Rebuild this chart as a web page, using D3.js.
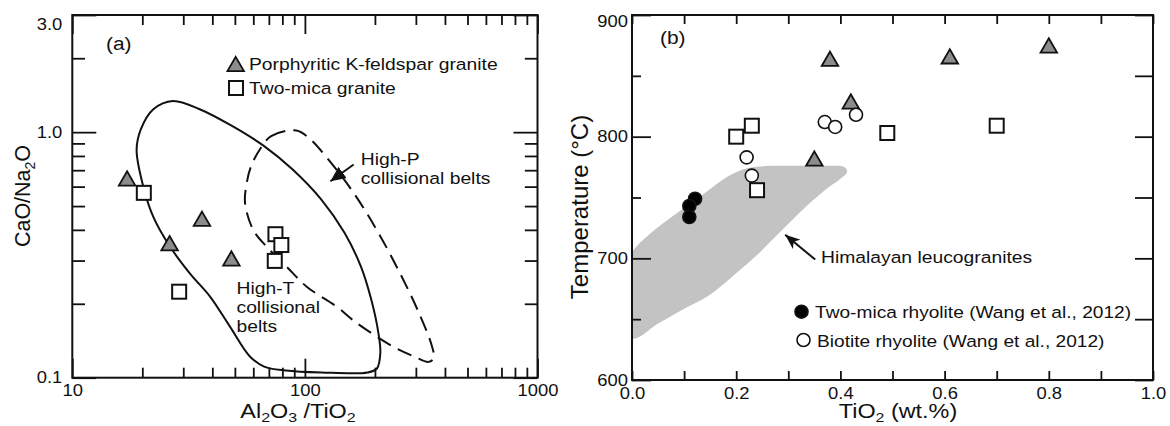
<!DOCTYPE html>
<html>
<head>
<meta charset="utf-8">
<script src="https://cdn.jsdelivr.net/npm/d3@7"></script>
<style>
  body { margin: 0; background: #fff; }
  text { font-family: "Liberation Sans", Arial, sans-serif; fill: #111; }
</style>
</head>
<body>
<svg id="chart" width="1170" height="426"></svg>
<script>
// ---- panel (a) : CaO/Na2O vs Al2O3/TiO2 ----
var kfsA_x  = [17.2, 36.1, 26.2, 48.3];
var kfsA_y  = [0.648, 0.444, 0.353, 0.306];
var micaA_x = [20.3, 74.7, 79.2, 74.2, 28.8];
var micaA_y = [0.566, 0.384, 0.347, 0.299, 0.224];
// High-T collisional belts field (solid)
var highT = [[27.1,1.34],[35.3,1.24],[48.6,1.06],[66.8,0.877],[88.6,0.704],[117.7,0.531],
  [148,0.389],[174,0.284],[193,0.2075],[207,0.152],[211,0.126],[204,0.109],[186,0.105],
  [118,0.105],[82.6,0.107],[66.8,0.111],[58,0.122],[47.7,0.161],[39.1,0.214],[32,0.266],
  [26.3,0.342],[22.3,0.452],[20.2,0.60],[18.9,0.846],[19.7,1.026],[22.3,1.24]];
// High-P collisional belts field (dashed)
var highP = [[64,0.85],[71.6,0.963],[91.9,1.016],[105.7,0.934],[126,0.774],[162,0.566],
  [207,0.389],[256,0.267],[305,0.189],[352,0.134],[358,0.120],[340,0.116],[295,0.122],
  [239,0.134],[167.5,0.1667],[137,0.1946],[101.8,0.2347],[83.5,0.283],[68.5,0.3415],
  [60,0.399],[55.3,0.514],[56.2,0.619],[58.5,0.72]];
var arrowA = [[162,0.738],[128.8,0.631]];
var xTicksA_major = [10, 100, 1000];
var xTicksA_minor = [20,30,40,50,60,70,80,90,200,300,400,500,600,700,800,900];
var yTicksA_major = [0.1, 1.0, 3.0];
var yTicksA_minor = [0.2,0.3,0.4,0.5,0.6,0.7,0.8,0.9,2.0];

// ---- panel (b) : Temperature vs TiO2 ----
var kfsB_ti  = [0.38, 0.61, 0.80, 0.42, 0.35];
var kfsB_t   = [864, 866, 875, 829, 782];
var micaB_ti = [0.20, 0.23, 0.49, 0.70, 0.24];
var micaB_t  = [800, 809, 803, 809, 756];
var bioB_ti  = [0.37, 0.39, 0.43, 0.22, 0.23];
var bioB_t   = [812, 808, 818, 783, 768];
var twoB_ti  = [0.121, 0.110, 0.110];
var twoB_t   = [749, 743, 734];
// Himalayan leucogranites field
var himal = [[0,705],[0.034,720],[0.086,737],[0.138,753],[0.183,767],[0.221,774],[0.266,776],
  [0.325,776],[0.385,776],[0.4075,775],[0.413,771],[0.40,765.5],[0.37,756],[0.325,739],
  [0.2805,720],[0.2356,701],[0.191,684.5],[0.146,669],[0.0934,657],[0.0485,646],[0,634],[-0.05,660]];
var arrowB = [[0.3516,699],[0.294,719.4]];
var xTicksB = [0,0.1,0.2,0.3,0.4,0.5,0.6,0.7,0.8,0.9,1.0];
var yTicksB_major = [600, 700, 800, 900];
var yTicksB_minor = [650, 750, 850];

var svg = d3.select("#chart");
var TRI = "#8c8c8c", SHADE = "#c3c3c3";

// arrow heads
var defs = svg.append("defs");
defs.append("marker").attr("id", "headA").attr("markerUnits", "userSpaceOnUse")
  .attr("markerWidth", 16).attr("markerHeight", 14).attr("refX", 15).attr("refY", 7)
  .attr("orient", "auto")
  .append("path").attr("d", "M0,0 L15,7 L0,14 Z").attr("fill", "#111");
defs.append("marker").attr("id", "headB").attr("markerUnits", "userSpaceOnUse")
  .attr("markerWidth", 16).attr("markerHeight", 12).attr("refX", 15).attr("refY", 6)
  .attr("orient", "auto")
  .append("path").attr("d", "M0,0 L15,6 L0,12 L4,6 Z").attr("fill", "#111");

// horizontally widened text like the original figure
function label(g, x, y, parts, size, sx, anchor) {
  var t = g.append("text")
    .attr("transform", "translate(" + x + "," + y + ") scale(" + sx + ",1)")
    .attr("font-size", size)
    .attr("text-anchor", anchor || "start");
  parts.forEach(function(p) {
    var s = t.append("tspan").text(p[0]);
    if (p[1] == "sub") s.attr("font-size", size * 0.68).attr("dy", size * 0.2);
    if (p[1] == "up") s.attr("dy", -size * 0.2);
  });
  return t;
}

function widenTicks(sel, sx, fs) {
  sel.selectAll(".tick text").each(function() {
    var x = +this.getAttribute("x") || 0, y = +this.getAttribute("y") || 0;
    d3.select(this).attr("x", 0).attr("y", 0)
      .attr("transform", "translate(" + x + "," + y + ") scale(" + sx + ",1)")
      .attr("font-size", fs).attr("fill", "#111")
      .attr("font-family", "'Liberation Sans', Arial, sans-serif");
  });
  sel.select(".domain").remove();
  sel.selectAll(".tick line").attr("stroke", "#111").attr("stroke-width", 1.8);
}

function addAxis(g, axis, tx, ty) {
  var a = g.append("g").attr("transform", "translate(" + tx + "," + ty + ")").call(axis);
  widenTicks(a, 1.15, 16);
  return a;
}

function triangle(g, cx, cy) {
  var sym = d3.symbol(d3.symbolTriangle, 118);
  var hy = Math.sqrt(118 / (3 * Math.sqrt(3)));
  g.append("path").attr("d", sym())
    .attr("transform", "translate(" + cx + "," + (cy + hy / 2) + ")")
    .attr("fill", TRI).attr("stroke", "#111").attr("stroke-width", 1.8);
}
function square(g, cx, cy) {
  g.append("rect").attr("x", cx - 7).attr("y", cy - 7).attr("width", 14).attr("height", 14)
    .attr("fill", "#fff").attr("stroke", "#111").attr("stroke-width", 2);
}
function circle(g, cx, cy, filled) {
  g.append("circle").attr("cx", cx).attr("cy", cy).attr("r", 6.5)
    .attr("fill", filled ? "#000" : "#fff").attr("stroke", "#111").attr("stroke-width", 1.6);
}

// ================= panel (a) =================
var xa = d3.scaleLog().domain([10, 1000]).range([72.3, 537.5]);
var ya = d3.scaleLog().domain([0.1, 3]).range([377.7, 15]);
var ga = svg.append("g");

var fieldLineA = d3.line().x(function(d) { return xa(d[0]); }).y(function(d) { return ya(d[1]); })
  .curve(d3.curveCatmullRomClosed.alpha(0.5));
ga.append("path").attr("d", fieldLineA(highT)).attr("fill", "none")
  .attr("stroke", "#111").attr("stroke-width", 2);
ga.append("path").attr("d", fieldLineA(highP)).attr("fill", "none")
  .attr("stroke", "#111").attr("stroke-width", 2).attr("stroke-dasharray", "15,8");

ga.append("line")
  .attr("x1", xa(arrowA[0][0])).attr("y1", ya(arrowA[0][1]))
  .attr("x2", xa(arrowA[1][0])).attr("y2", ya(arrowA[1][1]))
  .attr("stroke", "#111").attr("stroke-width", 2).attr("marker-end", "url(#headA)");

kfsA_x.forEach(function(v, i) { triangle(ga, xa(v), ya(kfsA_y[i])); });
micaA_x.forEach(function(v, i) { square(ga, xa(v), ya(micaA_y[i])); });

// axes (inward ticks)
addAxis(ga, d3.axisBottom(xa).tickValues(xTicksA_major).tickFormat(d3.format("d"))
  .tickSizeInner(-19).tickSizeOuter(0).tickPadding(7), 0, 377.7);
addAxis(ga, d3.axisBottom(xa).tickValues(xTicksA_minor).tickFormat("")
  .tickSizeInner(-10).tickSizeOuter(0), 0, 377.7);
addAxis(ga, d3.axisTop(xa).tickValues(xTicksA_major).tickFormat("")
  .tickSizeInner(-19).tickSizeOuter(0), 0, 15);
addAxis(ga, d3.axisTop(xa).tickValues(xTicksA_minor).tickFormat("")
  .tickSizeInner(-10).tickSizeOuter(0), 0, 15);
var yla = addAxis(ga, d3.axisLeft(ya).tickValues(yTicksA_major).tickFormat(d3.format(".1f"))
  .tickSizeInner(-24).tickSizeOuter(0).tickPadding(10), 72.3, 0);
yla.selectAll(".tick").filter(function(d) { return d == 3; }).select("text")
  .attr("transform", function() { return d3.select(this).attr("transform").replace("translate(-10,0)", "translate(-10,9)"); });
addAxis(ga, d3.axisLeft(ya).tickValues(yTicksA_minor).tickFormat("")
  .tickSizeInner(-12.7).tickSizeOuter(0), 72.3, 0);
addAxis(ga, d3.axisRight(ya).tickValues(yTicksA_major).tickFormat("")
  .tickSizeInner(-24).tickSizeOuter(0), 537.5, 0);
addAxis(ga, d3.axisRight(ya).tickValues(yTicksA_minor).tickFormat("")
  .tickSizeInner(-12.7).tickSizeOuter(0), 537.5, 0);

ga.append("rect").attr("x", 72.3).attr("y", 15).attr("width", 537.5 - 72.3).attr("height", 377.7 - 15)
  .attr("fill", "none").attr("stroke", "#111").attr("stroke-width", 2);

label(ga, 106, 50, [["(a)"]], 19, 1.1);
triangle(ga, 235.7, 64);
square(ga, 236, 88);
label(ga, 249, 70, [["Porphyritic K-feldspar granite"]], 16.5, 1.17);
label(ga, 249, 94, [["Two-mica granite"]], 16.5, 1.17);
label(ga, 360.7, 165, [["High-P"]], 16.5, 1.17);
label(ga, 360.7, 184, [["collisional belts"]], 16.5, 1.17);
label(ga, 236.5, 293.5, [["High-T"]], 16.5, 1.17);
label(ga, 236.5, 312.7, [["collisional"]], 16.5, 1.17);
label(ga, 236.5, 331.7, [["belts"]], 16.5, 1.17);

label(ga, 298, 418, [["Al"], ["2", "sub"], ["O", "up"], ["3", "sub"], [" /TiO", "up"], ["2", "sub"]], 19.5, 1.2, "middle");
ga.append("text").attr("transform", "translate(30,196) rotate(-90)").attr("text-anchor", "middle")
  .attr("font-size", 21.5)
  .call(function(t) {
    t.append("tspan").text("CaO/Na");
    t.append("tspan").text("2").attr("font-size", 14).attr("dy", 5);
    t.append("tspan").text("O").attr("dy", -5);
  });

// ================= panel (b) =================
var xb = d3.scaleLinear().domain([0, 1]).range([632, 1153]);
var yb = d3.scaleLinear().domain([600, 900]).range([380, 15]);
var gb = svg.append("g");

defs.append("clipPath").attr("id", "clipB").append("rect")
  .attr("x", 632).attr("y", 15).attr("width", 1153 - 632).attr("height", 380 - 15);

var fieldLineB = d3.line().x(function(d) { return xb(d[0]); }).y(function(d) { return yb(d[1]); })
  .curve(d3.curveCatmullRomClosed.alpha(0.5));
gb.append("path").attr("d", fieldLineB(himal)).attr("fill", SHADE).attr("stroke", "none")
  .attr("clip-path", "url(#clipB)");

gb.append("line")
  .attr("x1", xb(arrowB[0][0])).attr("y1", yb(arrowB[0][1]))
  .attr("x2", xb(arrowB[1][0])).attr("y2", yb(arrowB[1][1]))
  .attr("stroke", "#111").attr("stroke-width", 2).attr("marker-end", "url(#headB)");

kfsB_ti.forEach(function(v, i) { triangle(gb, xb(v), yb(kfsB_t[i])); });
micaB_ti.forEach(function(v, i) { square(gb, xb(v), yb(micaB_t[i])); });
bioB_ti.forEach(function(v, i) { circle(gb, xb(v), yb(bioB_t[i]), false); });
twoB_ti.forEach(function(v, i) { circle(gb, xb(v), yb(twoB_t[i]), true); });

var fmtB = function(d) { return Math.round(d * 10) % 2 == 0 ? d3.format(".1f")(d) : ""; };
addAxis(gb, d3.axisBottom(xb).tickValues(xTicksB).tickFormat(fmtB)
  .tickSizeInner(-9).tickSizeOuter(0).tickPadding(8), 0, 380);
addAxis(gb, d3.axisTop(xb).tickValues(xTicksB).tickFormat("")
  .tickSizeInner(-9).tickSizeOuter(0), 0, 15);
var ylb = addAxis(gb, d3.axisLeft(yb).tickValues(yTicksB_major).tickFormat(d3.format("d"))
  .tickSizeInner(-19).tickSizeOuter(0).tickPadding(4), 632, 0);
ylb.selectAll(".tick").filter(function(d) { return d == 900; }).select("text")
  .attr("transform", function() { return d3.select(this).attr("transform").replace("translate(-4,0)", "translate(-4,6)"); });
addAxis(gb, d3.axisLeft(yb).tickValues(yTicksB_minor).tickFormat("")
  .tickSizeInner(-9).tickSizeOuter(0), 632, 0);
addAxis(gb, d3.axisRight(yb).tickValues(yTicksB_major.concat(yTicksB_minor)).tickFormat("")
  .tickSizeInner(-18).tickSizeOuter(0), 1153, 0);

gb.append("rect").attr("x", 632).attr("y", 15).attr("width", 1153 - 632).attr("height", 380 - 15)
  .attr("fill", "none").attr("stroke", "#111").attr("stroke-width", 2);

label(gb, 660, 44, [["(b)"]], 19, 1.1);
label(gb, 821, 263, [["Himalayan leucogranites"]], 16.5, 1.17);
circle(gb, 801.5, 311.7, true);
circle(gb, 803.5, 340, false);
label(gb, 815, 318, [["Two-mica rhyolite (Wang et al., 2012)"]], 16.5, 1.16);
label(gb, 817, 346.5, [["Biotite rhyolite (Wang et al., 2012)"]], 16.5, 1.16);

label(gb, 898, 418, [["TiO"], ["2", "sub"], [" (wt.%)", "up"]], 19.5, 1.2, "middle");
gb.append("text").attr("transform", "translate(588,207) rotate(-90)").attr("text-anchor", "middle")
  .attr("font-size", 24).text("Temperature (°C)");
</script>
</body>
</html>
